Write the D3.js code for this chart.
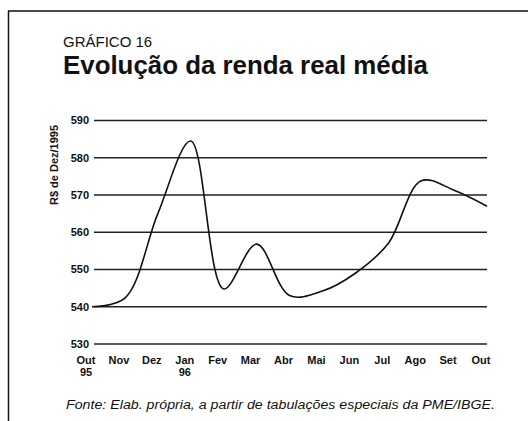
<!DOCTYPE html>
<html>
<head>
<meta charset="utf-8">
<script src="https://cdn.jsdelivr.net/npm/d3@7"></script>
<style>
  body { margin: 0; background: #fff; }
  svg text { font-family: "Liberation Sans", Arial, sans-serif; fill: #111; }
</style>
</head>
<body>
<div id="chart"></div>
<script>
// months, Out/95 .. Out/96
const months = ["Out", "Nov", "Dez", "Jan", "Fev", "Mar", "Abr", "Mai", "Jun", "Jul", "Ago", "Set", "Out"]
const yearLabels = ["95", "", "", "96", "", "", "", "", "", "", "", "", ""]
// renda real média, R$ de Dez/1995
const renda = [540, 542.3, 565, 584.5, 544.8, 556.8, 543, 544.2, 549, 557, 573.8, 571.3, 567]
const yTicks = [530, 540, 550, 560, 570, 580, 590]

const width = 528
const height = 421

const svg = d3.select("#chart").append("svg")
  .attr("width", width)
  .attr("height", height)

// frame (top and left rules)
svg.append("line").attr("x1", 8).attr("x2", width).attr("y1", 11).attr("y2", 11)
  .attr("stroke", "#111").attr("stroke-width", 1.5)
svg.append("line").attr("x1", 8.5).attr("x2", 8.5).attr("y1", 11).attr("y2", height)
  .attr("stroke", "#111").attr("stroke-width", 1.5)

// titles
svg.append("text").attr("x", 63).attr("y", 47)
  .style("font-size", "15px").text("GRÁFICO 16")
svg.append("text").attr("x", 63).attr("y", 74)
  .attr("textLength", 365).attr("lengthAdjust", "spacingAndGlyphs")
  .style("font-size", "25px").style("font-weight", "bold")
  .text("Evolução da renda real média")

const x = d3.scaleLinear().domain([0, months.length - 1]).range([92, 487])
const y = d3.scaleLinear().domain([530, 590]).range([344, 120.5])

// gridlines
svg.append("g").selectAll("line")
  .data(yTicks).enter().append("line")
  .attr("x1", 94).attr("x2", 487)
  .attr("y1", d => y(d)).attr("y2", d => y(d))
  .attr("stroke", "#222").attr("stroke-width", 1.3)

// y tick labels
svg.append("g").selectAll("text")
  .data(yTicks).enter().append("text")
  .attr("x", 89).attr("y", d => y(d))
  .attr("dy", "0.35em")
  .attr("text-anchor", "end")
  .style("font-size", "11px").style("font-weight", "bold")
  .text(d => d)

// y axis title
svg.append("text")
  .attr("transform", "translate(58,165) rotate(-90)")
  .attr("text-anchor", "middle")
  .style("font-size", "11px").style("font-weight", "bold")
  .text("R$ de Dez/1995")

// x labels
const xl = svg.append("g").selectAll("g")
  .data(months).enter().append("g")
  .attr("transform", (d, i) => `translate(${x(i) - 6},0)`)
xl.append("text").attr("y", 364)
  .attr("text-anchor", "middle")
  .style("font-size", "11px").style("font-weight", "bold")
  .text(d => d)
xl.append("text").attr("y", 376)
  .attr("text-anchor", "middle")
  .style("font-size", "11px").style("font-weight", "bold")
  .text((d, i) => yearLabels[i])

// the curve
const line = d3.line()
  .x((d, i) => x(i))
  .y(d => y(d))
  .curve(d3.curveCatmullRom.alpha(0.5))

svg.append("path")
  .datum(renda)
  .attr("d", line)
  .attr("fill", "none")
  .attr("stroke", "#111")
  .attr("stroke-width", 1.6)

// source note
svg.append("text").attr("x", 66).attr("y", 409)
  .attr("textLength", 429).attr("lengthAdjust", "spacingAndGlyphs")
  .style("font-size", "12px").style("font-style", "italic")
  .text("Fonte: Elab. própria, a partir de tabulações especiais da PME/IBGE.")
</script>
</body>
</html>
